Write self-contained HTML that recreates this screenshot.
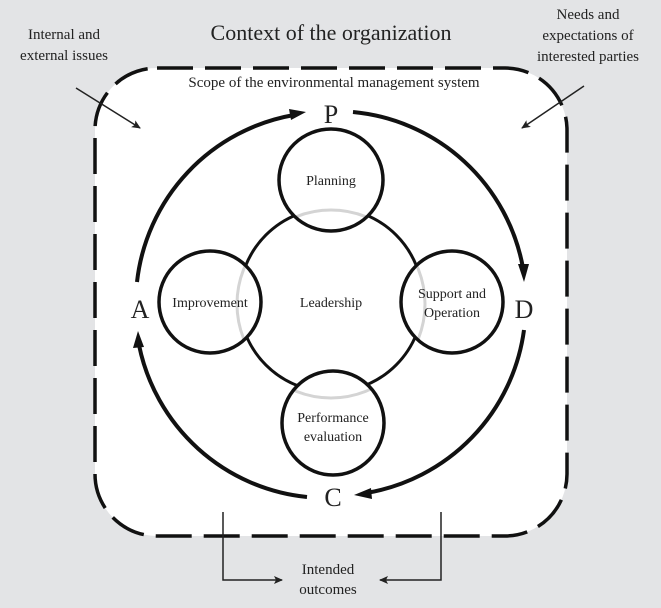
<!DOCTYPE html>
<html><head><meta charset="utf-8"><style>
html,body{margin:0;padding:0;background:#e3e4e6;}
svg{display:block}
text{font-family:"Liberation Serif",serif;fill:#222;}
</style></head><body>
<svg width="661" height="608" viewBox="0 0 661 608" xmlns="http://www.w3.org/2000/svg">
<defs>
<marker id="ah" markerWidth="10" markerHeight="10" refX="8" refY="5" orient="auto" markerUnits="userSpaceOnUse">
<path d="M0,1 L9,5 L0,9 L2,5 Z" fill="#222"/></marker>
<clipPath id="sub">
<ellipse cx="331" cy="180" rx="52" ry="51"/>
<ellipse cx="210" cy="302" rx="51" ry="51"/>
<ellipse cx="452" cy="302" rx="51" ry="51"/>
<ellipse cx="333" cy="423" rx="51" ry="52"/>
</clipPath>
</defs>
<rect x="0" y="0" width="661" height="608" fill="#e3e4e6"/>
<rect x="95" y="68" width="472" height="468" rx="62" ry="62" fill="#fff" stroke="#111" stroke-width="3.5" stroke-dasharray="36 12"/>
<text x="331" y="40" font-size="22" text-anchor="middle">Context of the organization</text>
<text x="64" y="39" font-size="15" text-anchor="middle">Internal and</text>
<text x="64" y="60" font-size="15" text-anchor="middle">external issues</text>
<text x="588" y="19" font-size="15" text-anchor="middle">Needs and</text>
<text x="588" y="40" font-size="15" text-anchor="middle">expectations of</text>
<text x="588" y="61" font-size="15" text-anchor="middle">interested parties</text>
<text x="334" y="87" font-size="15" text-anchor="middle">Scope of the environmental management system</text>
<line x1="76" y1="88" x2="140" y2="128" stroke="#222" stroke-width="1.5" marker-end="url(#ah)"/>
<line x1="584" y1="86" x2="522" y2="128" stroke="#222" stroke-width="1.5" marker-end="url(#ah)"/>
<circle cx="331" cy="300" r="92" fill="none" stroke="#111" stroke-width="3"/>
<g fill="#fff" stroke="none">
<ellipse cx="331" cy="180" rx="52" ry="51"/>
<ellipse cx="210" cy="302" rx="51" ry="51"/>
<ellipse cx="452" cy="302" rx="51" ry="51"/>
<ellipse cx="333" cy="423" rx="51" ry="52"/>
</g>
<circle cx="331" cy="304" r="94" fill="none" stroke="#d4d4d4" stroke-width="3" clip-path="url(#sub)"/>
<g fill="none" stroke="#111" stroke-width="3.5">
<ellipse cx="331" cy="180" rx="52" ry="51"/>
<ellipse cx="210" cy="302" rx="51" ry="51"/>
<ellipse cx="452" cy="302" rx="51" ry="51"/>
<ellipse cx="333" cy="423" rx="51" ry="52"/>
</g>
<text x="331" y="185" font-size="14" text-anchor="middle">Planning</text>
<text x="210" y="307" font-size="14" text-anchor="middle">Improvement</text>
<text x="331" y="307" font-size="14" text-anchor="middle">Leadership</text>
<text x="452" y="298" font-size="14" text-anchor="middle">Support and</text>
<text x="452" y="317" font-size="14" text-anchor="middle">Operation</text>
<text x="333" y="422" font-size="14" text-anchor="middle">Performance</text>
<text x="333" y="441" font-size="14" text-anchor="middle">evaluation</text>
<g fill="none" stroke="#111" stroke-width="4">
<path d="M353,112 A191,191 0 0 1 523,268"/>
<path d="M524,330 A191,191 0 0 1 366,493"/>
<path d="M307,497 A191,191 0 0 1 139,345"/>
<path d="M137,282 A191,191 0 0 1 294,115"/>
</g>
<g fill="#111">
<polygon points="524,282 518,264 529,264"/>
<polygon points="354,495 371,488 372,499"/>
<polygon points="138,331 133,348 144,347"/>
<polygon points="306,112 289,109 291,120"/>
</g>
<text x="331" y="123" font-size="26" text-anchor="middle">P</text>
<text x="140" y="318" font-size="26" text-anchor="middle">A</text>
<text x="524" y="318" font-size="26" text-anchor="middle">D</text>
<text x="333" y="506" font-size="26" text-anchor="middle">C</text>
<polyline points="223,512 223,580 282,580" fill="none" stroke="#222" stroke-width="1.5" marker-end="url(#ah)"/>
<polyline points="441,512 441,580 380,580" fill="none" stroke="#222" stroke-width="1.5" marker-end="url(#ah)"/>
<text x="328" y="574" font-size="15" text-anchor="middle">Intended</text>
<text x="328" y="594" font-size="15" text-anchor="middle">outcomes</text>
</svg>
</body></html>
